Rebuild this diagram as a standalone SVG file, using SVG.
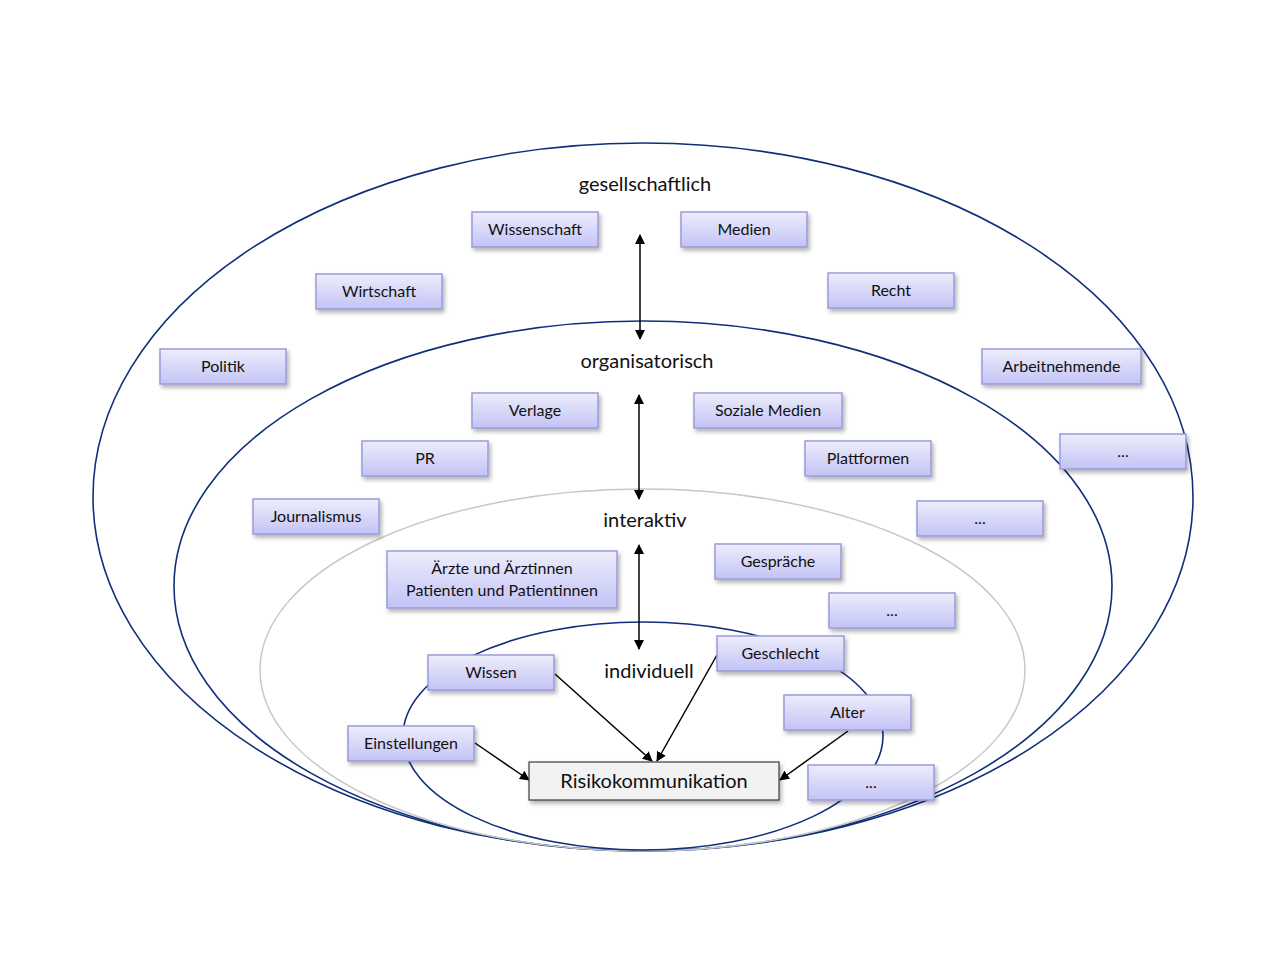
<svg xmlns="http://www.w3.org/2000/svg" width="1280" height="960" viewBox="0 0 1280 960">
<defs>
<linearGradient id="g" x1="0" y1="0" x2="0" y2="1">
<stop offset="0" stop-color="#EDEDFC"/>
<stop offset="1" stop-color="#C3C3F6"/>
</linearGradient>
<filter id="sh" x="-10%" y="-20%" width="130%" height="160%">
<feDropShadow dx="2" dy="3" stdDeviation="2" flood-color="#000" flood-opacity="0.3"/>
</filter>
<marker id="ah2" viewBox="0 0 10 10" refX="9" refY="5" markerWidth="10" markerHeight="10" markerUnits="userSpaceOnUse" orient="auto-start-reverse">
<path d="M0,0 L10,5 L0,10 z" fill="#000"/>
</marker>
</defs>
<style>
.b rect{fill:url(#g);stroke:#9A9ADA;stroke-width:1.5;filter:url(#sh)}
.b text{font-family:Lato,"Open Sans","Liberation Sans",sans-serif;font-size:16px;fill:#111;text-anchor:middle;dominant-baseline:central}
.lv{font-family:Lato,"Open Sans","Liberation Sans",sans-serif;font-size:20px;fill:#111;text-anchor:middle;dominant-baseline:central}
.el{fill:none;stroke:#0F2F7A;stroke-width:1.6}
.conn line{stroke:#000;stroke-width:1.5}
</style>
<rect width="1280" height="960" fill="#fff"/>
<g id="ellipses">
<ellipse class="el" cx="643" cy="497" rx="550" ry="354"/>
<ellipse class="el" cx="643" cy="586" rx="469" ry="265"/>
<ellipse cx="642.5" cy="670" rx="382.5" ry="181" fill="none" stroke="#C8C8C8" stroke-width="1.5"/>
<ellipse class="el" cx="643" cy="736" rx="240" ry="114"/>
</g>
<g id="levels">
<text class="lv" x="645" y="183">gesellschaftlich</text>
<text class="lv" x="647" y="360">organisatorisch</text>
<text class="lv" x="645" y="519">interaktiv</text>
<text class="lv" x="649" y="670">individuell</text>
</g>
<g id="connectors" class="conn">
<line x1="640" y1="235" x2="640" y2="339" marker-start="url(#ah2)" marker-end="url(#ah2)"/>
<line x1="639" y1="395" x2="639" y2="499" marker-start="url(#ah2)" marker-end="url(#ah2)"/>
<line x1="639" y1="545" x2="639" y2="649" marker-start="url(#ah2)" marker-end="url(#ah2)"/>
<line x1="555" y1="674" x2="652" y2="761" marker-end="url(#ah2)"/>
<line x1="717" y1="655" x2="657" y2="761" marker-end="url(#ah2)"/>
<line x1="475" y1="743" x2="529" y2="780" marker-end="url(#ah2)"/>
<line x1="848" y1="731" x2="780" y2="780" marker-end="url(#ah2)"/>
</g>
<g id="n-wissenschaft" class="b"><rect x="472" y="212" width="126" height="35"/><text x="535" y="228.5">Wissenschaft</text></g>
<g id="n-medien" class="b"><rect x="681" y="212" width="126" height="35"/><text x="744" y="228.5">Medien</text></g>
<g id="n-wirtschaft" class="b"><rect x="316" y="274" width="126" height="35"/><text x="379" y="290.5">Wirtschaft</text></g>
<g id="n-recht" class="b"><rect x="828" y="273" width="126" height="35"/><text x="891" y="289.5">Recht</text></g>
<g id="n-politik" class="b"><rect x="160" y="349" width="126" height="35"/><text x="223" y="365.5">Politik</text></g>
<g id="n-arbeitnehmende" class="b"><rect x="982" y="349" width="159" height="35"/><text x="1061.5" y="365.5">Arbeitnehmende</text></g>
<g id="n-verlage" class="b"><rect x="472" y="393" width="126" height="35"/><text x="535" y="409.5">Verlage</text></g>
<g id="n-sozialemedien" class="b"><rect x="694" y="393" width="148" height="35"/><text x="768" y="409.5">Soziale Medien</text></g>
<g id="n-pr" class="b"><rect x="362" y="441" width="126" height="35"/><text x="425" y="457.5">PR</text></g>
<g id="n-plattformen" class="b"><rect x="805" y="441" width="126" height="35"/><text x="868" y="457.5">Plattformen</text></g>
<g id="n-more-ges" class="b"><rect x="1060" y="434" width="126" height="35"/><text x="1123" y="450.5">...</text></g>
<g id="n-journalismus" class="b"><rect x="253" y="499" width="126" height="35"/><text x="316" y="515.5">Journalismus</text></g>
<g id="n-more-org" class="b"><rect x="917" y="501" width="126" height="35"/><text x="980" y="517.5">...</text></g>
<g id="n-aerzte" class="b"><rect x="387" y="551" width="230" height="57"/><text x="502" y="567.5">Ärzte und Ärztinnen</text><text x="502" y="589.5">Patienten und Patientinnen</text></g>
<g id="n-gespraeche" class="b"><rect x="715" y="544" width="126" height="35"/><text x="778" y="560.5">Gespräche</text></g>
<g id="n-more-int" class="b"><rect x="829" y="593" width="126" height="35"/><text x="892" y="609.5">...</text></g>
<g id="n-geschlecht" class="b"><rect x="717" y="636" width="127" height="35"/><text x="780.5" y="652.5">Geschlecht</text></g>
<g id="n-wissen" class="b"><rect x="428" y="655" width="126" height="35"/><text x="491" y="671.5">Wissen</text></g>
<g id="n-alter" class="b"><rect x="784" y="695" width="127" height="35"/><text x="847.5" y="711.5">Alter</text></g>
<g id="n-einstellungen" class="b"><rect x="348" y="726" width="126" height="35"/><text x="411" y="742.5">Einstellungen</text></g>
<g id="n-more-ind" class="b"><rect x="808" y="765" width="126" height="35"/><text x="871" y="781.5">...</text></g>
<g id="n-risiko"><rect x="529" y="762" width="250" height="38" fill="#F2F2F2" stroke="#3A3A3A" stroke-width="1.2" filter="url(#sh)"/><text class="lv" x="654" y="780">Risikokommunikation</text></g>
</svg>
